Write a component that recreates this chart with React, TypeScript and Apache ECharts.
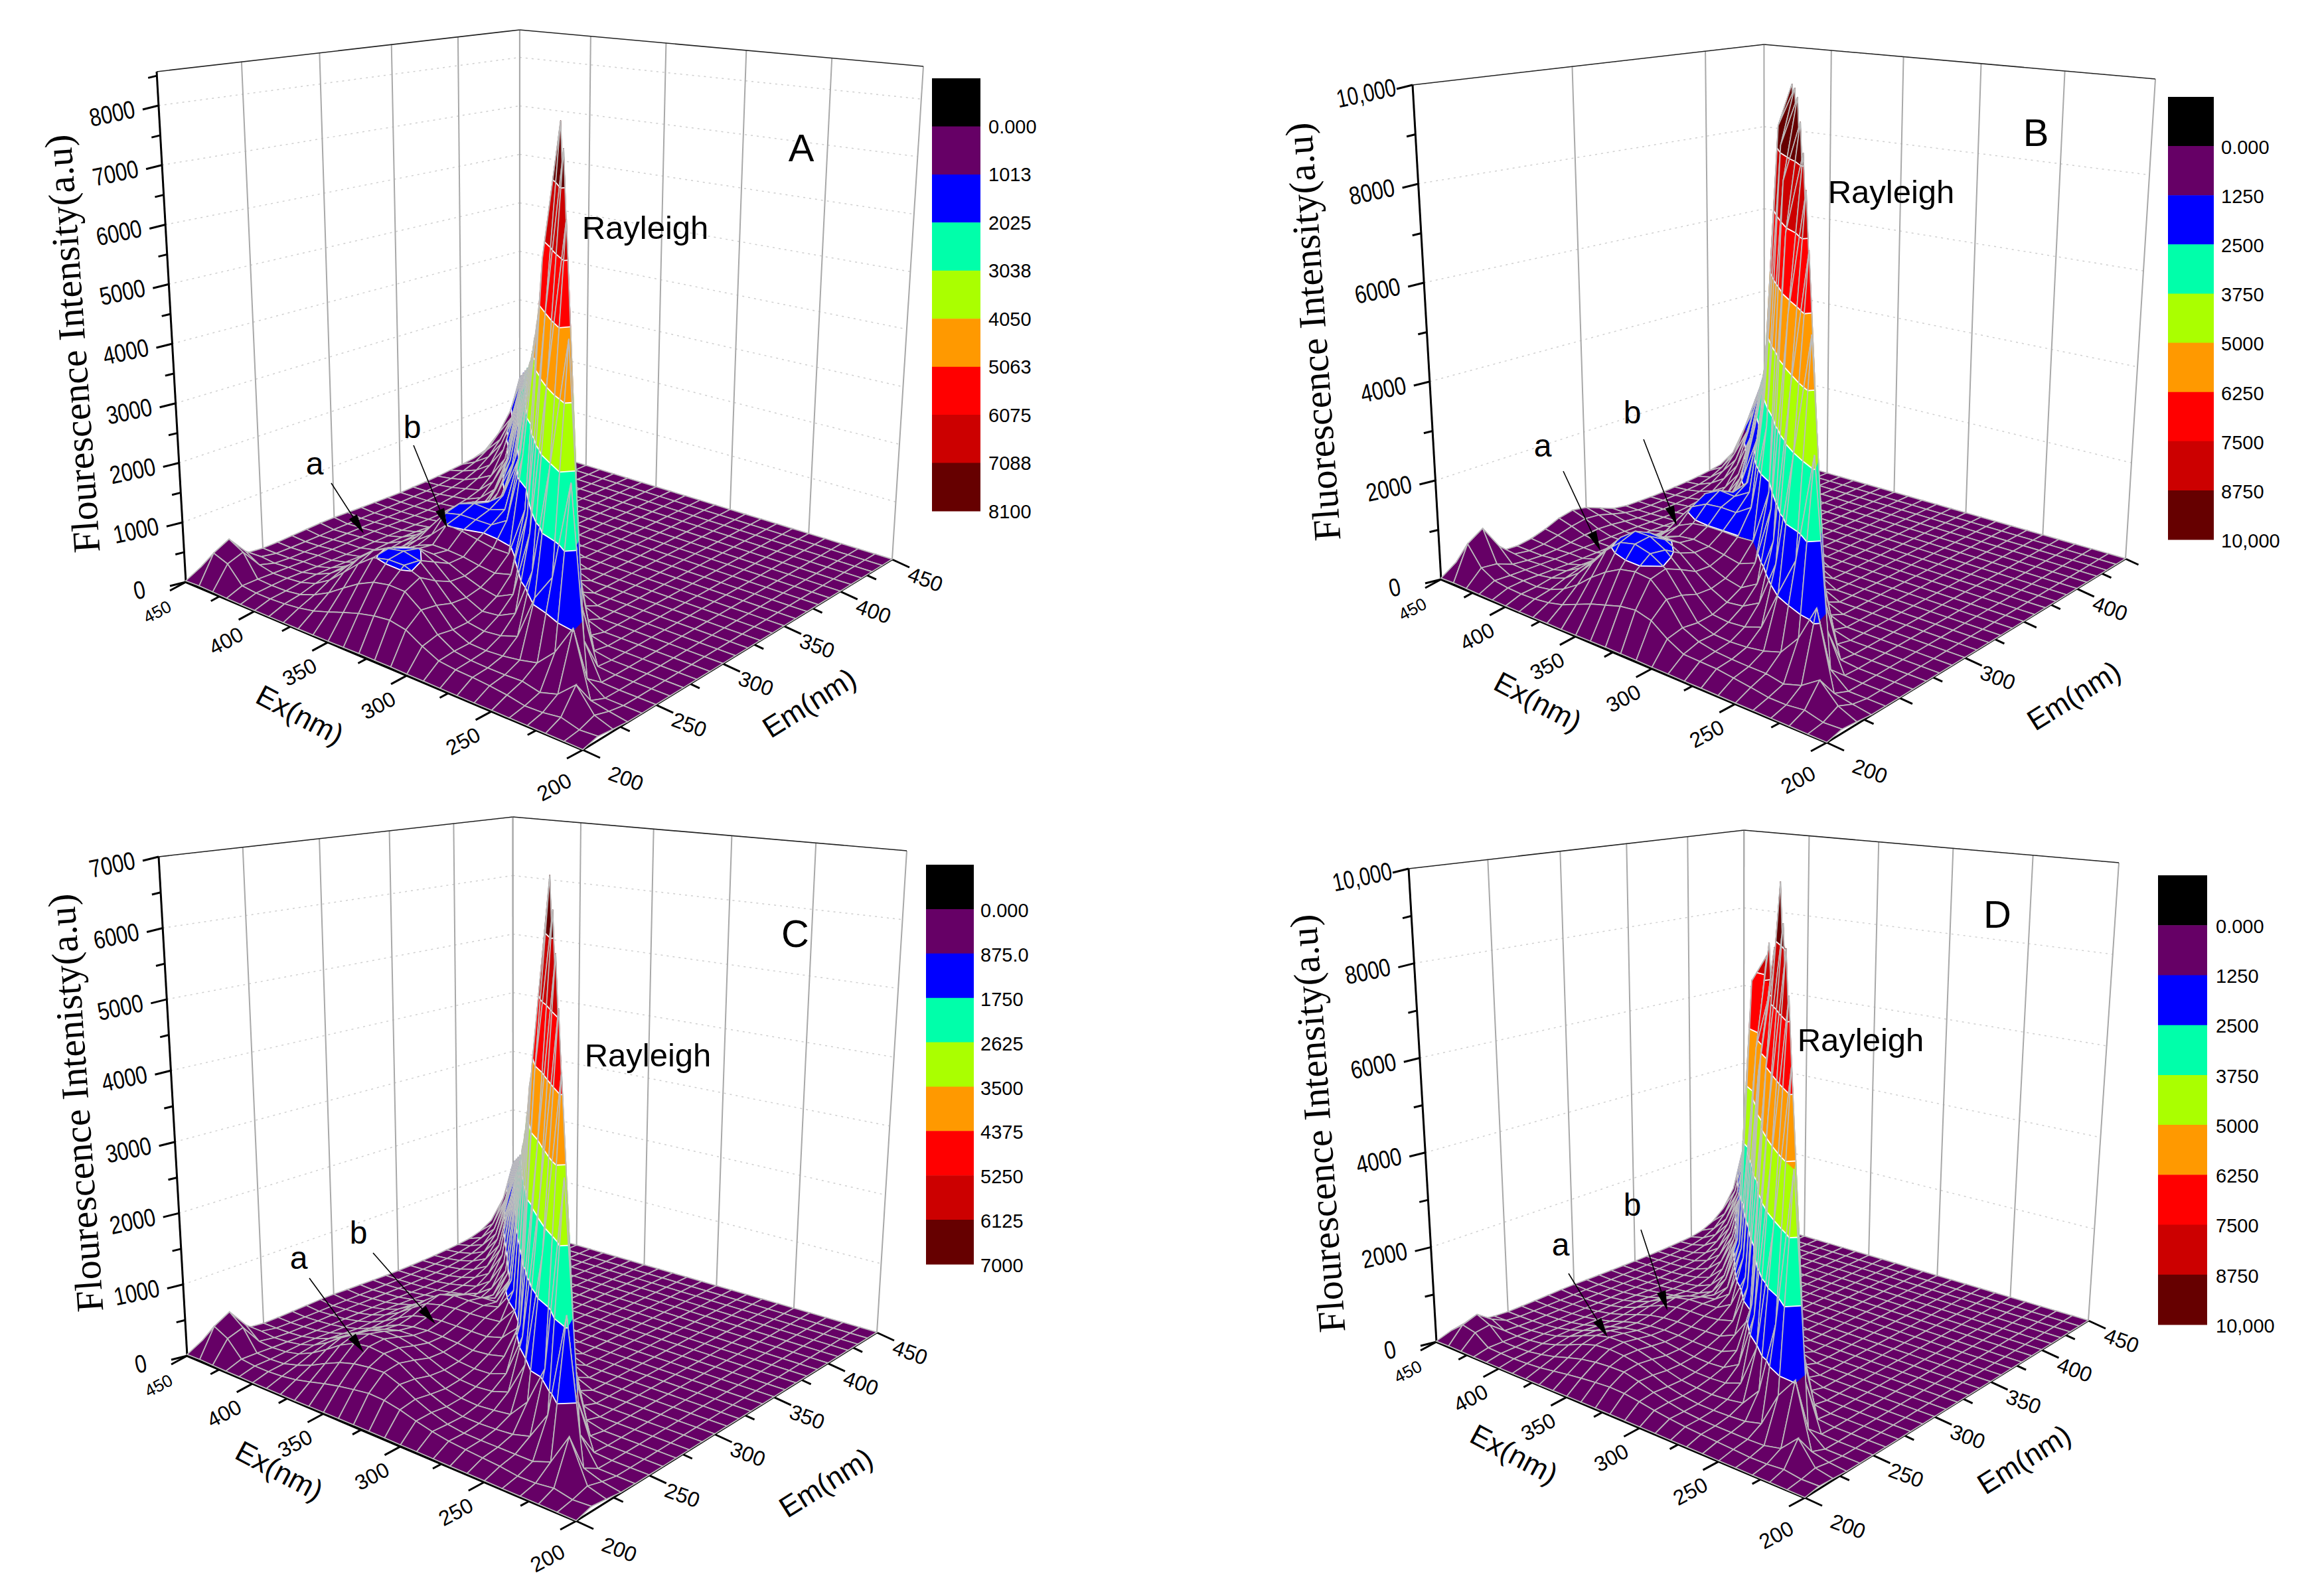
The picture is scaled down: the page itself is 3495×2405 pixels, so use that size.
import React, { useEffect, useRef } from "react";
import * as echarts from "echarts";

// Rows are Ex = 200..450 nm (10 nm steps), columns are Em = 200, 210, ... nm. Columns not listed sit on the floor level.
const surfaceA = [
  [5,60,30,8],
  [8,40,120,50,8],
  [10,110,450,100,10],
  [12,70,210,1050,190,15],
  [12,60,130,600,3000,540,30],
  [15,110,190,340,1500,5000,900,50],
  [15,140,180,280,1100,3000,6700,1200,70],
  [15,160,180,240,420,1300,4200,7700,1380,100],
  [18,170,190,220,330,560,1700,5000,8050,1440,110],
  [20,200,230,230,300,430,650,1800,5800,7000,1260,130],
  [20,320,380,340,340,400,520,760,1700,5000,6000,1080,120],
  [25,470,660,620,540,520,570,690,900,2400,4500,5300,950,100],
  [25,520,850,960,800,680,660,720,900,1250,2300,4100,4700,850,85],
  [25,490,860,1060,1030,900,770,770,950,1090,1250,2000,3700,4100,740,75],
  [20,430,810,1060,1090,1030,830,790,1000,1090,1160,1300,1900,3400,3800,680,70],
  [15,350,690,1000,1040,970,830,790,1020,1090,1180,1100,1100,1600,3000,3500,630,60],
  [12,260,530,810,920,860,730,690,770,1030,1090,1020,700,800,1400,2700,3200,580,50],
  [10,180,360,580,700,660,570,530,590,720,780,660,450,500,800,1300,2500,3000,540,50],
  [10,130,230,360,450,450,390,360,390,450,480,400,280,280,420,700,1150,2300,2800,500,45],
  [10,100,140,210,270,280,250,230,250,280,290,250,200,180,220,300,500,950,2000,2600,470,40],
  [10,85,105,135,160,160,150,140,150,160,160,150,130,120,140,180,260,460,800,1700,2400,430,35],
  [12,85,100,110,100,90,90,85,90,95,95,90,85,80,85,110,150,220,400,800,1400,2200,400,30],
  [15,110,110,100,90,80,80,80,80,85,85,80,70,60,60,80,110,160,260,420,750,1200,2000,360,25],
  [25,380,470,150,70,50,50,50,55,60,60,55,50,45,45,50,70,100,150,240,400,650,1000,1800,320,25],
  [30,470,600,290,90,40,35,35,35,40,40,40,35,35,35,40,45,60,90,140,220,360,600,950,1600,290],
  [20,150,220,130,70,40,40,50,60,70,70,60,50,40,35,30,35,40,50,70,90,120,190,340,630,1400],
];
const surfaceB = [
  [5,70,40,8],
  [8,50,180,60,8],
  [10,130,500,120,10],
  [12,90,280,1500,270,20],
  [15,90,180,850,4000,720,40],
  [15,140,240,480,2000,6000,1080,70],
  [18,180,240,380,1300,3700,7400,1330,90],
  [20,220,250,330,560,1600,4800,8400,1500,120],
  [20,230,270,310,450,760,1800,6000,9000,1600,130],
  [25,240,330,330,420,590,880,2200,7400,9500,1700,150],
  [25,400,470,430,450,550,700,1050,2300,8300,9900,1780,170],
  [30,620,880,830,720,700,770,930,1250,3400,8900,10000,1800,170],
  [30,700,1150,1220,1080,920,900,1000,1230,1700,3800,9200,10000,1800,160],
  [30,660,1180,1400,1350,1170,1060,1060,1240,1500,1800,3300,7600,9000,1700,150],
  [25,570,1120,1480,1510,1330,1150,1100,1240,1510,1620,1800,2700,6300,7000,1200,110],
  [20,480,960,1410,1510,1360,1150,1060,1200,1480,1650,1500,1500,2400,4500,5800,1000,90],
  [15,360,750,1150,1290,1200,1010,950,1060,1330,1490,1300,980,1200,2200,4000,5000,900,70],
  [15,240,500,800,970,920,790,730,810,980,1070,900,620,750,1300,2300,3700,4500,800,70],
  [15,170,310,500,630,620,530,490,530,610,660,560,400,430,680,1150,2000,3400,4000,720,60],
  [15,130,190,290,370,380,340,310,340,380,390,340,280,280,360,520,900,1700,3000,3600,650,55],
  [15,120,140,190,210,210,200,190,200,210,210,200,180,170,210,300,450,800,1500,2700,3300,600,50],
  [20,130,150,140,130,120,120,120,120,120,120,120,110,100,120,170,250,420,800,1500,2300,3000,540,40],
  [25,170,150,140,130,120,120,120,120,120,120,110,100,90,85,110,150,240,420,750,1300,1900,2700,490,35],
  [30,320,280,150,110,90,100,130,170,190,170,130,90,70,65,75,100,140,230,400,700,1250,1800,2400,430,30],
  [35,700,900,420,140,90,110,180,260,310,280,190,110,60,55,60,70,85,105,170,300,550,1000,1600,2200,400],
  [25,230,310,190,110,90,130,220,340,400,350,230,110,60,50,45,50,60,75,100,135,180,280,500,900,2000],
];
const surfaceC = [
  [5,60,35,8],
  [8,45,100,45,8],
  [10,90,600,120,10],
  [12,60,210,1900,340,20],
  [12,55,130,600,3450,620,40],
  [15,85,130,250,1000,4650,830,60],
  [15,100,130,190,500,2300,5370,960,70],
  [15,115,130,170,260,800,2900,6000,1050,90],
  [18,135,135,160,230,370,1000,3400,6500,1150,100],
  [20,170,165,165,210,300,440,1000,4300,6900,1200,110],
  [20,220,230,210,225,280,360,500,800,4300,5500,1000,90],
  [22,280,320,290,270,295,350,450,590,900,3900,4800,850,80],
  [22,320,430,410,360,345,370,430,530,650,1000,3400,4100,720,65],
  [22,330,510,540,490,430,420,455,530,630,700,1000,3000,3600,640,55],
  [20,300,500,590,580,520,470,470,530,620,650,620,850,2700,3200,570,50],
  [18,265,470,610,625,565,500,480,530,620,650,610,520,800,2400,2900,510,45],
  [15,220,410,580,620,570,495,460,510,600,650,590,430,420,700,2100,2600,470,40],
  [12,165,320,480,540,510,440,415,460,550,600,520,350,290,370,680,1900,2400,430,35],
  [12,115,220,345,420,400,350,325,360,420,450,380,260,200,225,330,650,1700,2200,400,35],
  [12,85,145,225,280,280,245,225,245,280,295,250,180,150,145,185,300,600,1400,2000,360,30],
  [12,70,90,135,170,175,160,145,155,175,180,160,130,110,105,130,175,270,520,1200,1850,330,28],
  [15,70,75,90,105,105,100,95,100,105,105,100,90,75,70,85,110,155,245,480,1100,1700,300,25],
  [15,90,85,75,70,60,60,60,60,62,62,60,55,50,48,55,70,95,145,220,430,950,1550,280,20],
  [20,300,370,90,55,42,42,42,45,47,47,45,42,40,38,42,50,65,90,125,195,380,800,1400,250,20],
  [25,400,520,250,75,35,30,30,30,33,33,33,30,30,30,33,38,45,58,80,115,175,330,700,1250,225],
  [18,130,190,115,60,35,35,40,48,55,55,48,42,35,30,28,30,35,42,58,72,95,150,260,490,1100],
];
const surfaceD = [
  [5,50,30,8],
  [8,40,90,40,8],
  [10,85,500,110,10],
  [10,55,190,1300,260,18],
  [12,50,120,900,5000,900,40],
  [12,70,110,260,2000,6800,1200,60],
  [15,85,115,180,620,3600,8000,1400,80],
  [15,100,115,160,270,1200,4700,8800,1500,90],
  [15,120,125,150,220,400,1600,5500,9200,1550,100],
  [18,150,150,155,200,290,520,1600,6200,9950,1600,110],
  [18,190,205,195,215,270,350,560,1100,5400,8600,1450,100],
  [20,240,280,260,250,275,330,430,640,1500,6200,8400,1350,90],
  [20,280,380,370,330,320,345,410,510,700,1500,5700,7500,1200,80],
  [20,290,450,480,440,390,385,420,500,620,820,1700,6100,8300,1300,80],
  [18,265,445,530,520,470,430,435,490,590,650,820,1700,5300,7900,1150,70],
  [15,235,420,550,565,510,455,440,490,590,630,610,750,1600,7300,6800,1050,65],
  [12,195,370,525,560,515,450,420,470,570,620,560,480,720,1500,5000,5000,850,55],
  [12,150,290,435,490,465,400,380,420,510,560,480,340,340,580,1250,2600,4500,750,50],
  [10,105,200,315,380,365,320,300,330,390,420,350,240,200,270,520,1100,2200,4000,680,45],
  [10,80,135,205,255,255,225,205,225,260,270,230,170,140,150,230,480,950,1900,3500,600,40],
  [10,65,85,125,155,160,145,135,145,160,165,145,120,100,100,130,220,430,850,1650,3100,530,35],
  [12,65,70,85,95,95,90,85,90,95,95,90,80,70,65,80,110,200,380,750,1400,2800,480,30],
  [12,75,70,65,60,55,55,55,55,55,55,55,50,45,42,50,65,95,175,340,650,1250,2500,430,25],
  [18,280,320,75,50,38,38,38,40,42,42,40,38,36,34,38,45,60,85,150,300,580,1100,2300,400,25],
  [22,340,440,215,65,32,28,28,28,30,30,30,28,28,28,30,34,42,55,75,135,260,520,1000,2100,370],
  [15,110,160,100,55,32,32,36,42,48,48,42,38,32,28,26,28,32,40,52,68,120,240,460,880,1900],
];

const floorLevel = 5;
const gridWavelengths = [200,210,220,230,240,250,260,270,280,290,300,310,320,330,340,350,360,370,380,390,400,410,420,430,440,450];

const levelsA = [0,1013,2025,3038,4050,5063,6075,7088,8100];
const levelsB = [0,1250,2500,3750,5000,6250,7500,8750,10000];
const levelsC = [0,875,1750,2625,3500,4375,5250,6125,7000];
const levelsD = [0,1250,2500,3750,5000,6250,7500,8750,10000];
const legendA = ["0.000","1013","2025","3038","4050","5063","6075","7088","8100"];
const legendB = ["0.000","1250","2500","3750","5000","6250","7500","8750","10,000"];
const legendC = ["0.000","875.0","1750","2625","3500","4375","5250","6125","7000"];
const legendD = ["0.000","1250","2500","3750","5000","6250","7500","8750","10,000"];
const ticksZA = [0,1000,2000,3000,4000,5000,6000,7000,8000];
const ticksZB = [0,2000,4000,6000,8000,10000];
const ticksZC = [0,1000,2000,3000,4000,5000,6000,7000];
const ticksZD = [0,2000,4000,6000,8000,10000];
const ticksEx = [200,250,300,350,400,450];
const ticksEmFull = [200,250,300,350,400,450];
const ticksEmSparse = [200,300,400];

const legendColors = ["#000000","#660066","#0000ff","#00ffaa","#aaff00","#ff9900","#ff0000","#cc0000","#660000"];
const bandColors = legendColors.slice(1);

type Pt = [number, number];
const panels: any[] = [
  { name:"A", surface:surfaceA, levels:levelsA, legend:legendA, ticksZ:ticksZA, ticksEm:ticksEmFull, zMax:8568, zMinor:500,
    L:[280,877],F:[878,1130],R:[1344,843],B:[783,671],TL:[236,108],TB:[783,45],TR:[1391,100],
    legendBox:[1404,118,1477,770], legendTextX:1489, legendFirstY:191,
    title:"Flourescence Intensity(a.u)", titlePos:[109,518], titleDeg:94,
    exPos:[452,1077], emPos:[1219,1059], letterPos:[1207,222], rayPos:[972,343],
    aPos:[474,698], bPos:[621,643], aArrow:[499,728,548,804], bArrow:[623,671,674,796] },
  { name:"B", surface:surfaceB, levels:levelsB, legend:legendB, ticksZ:ticksZB, ticksEm:ticksEmSparse, zMax:10000, zMinor:1000,
    L:[2171,873],F:[2752,1119],R:[3202,842],B:[2658,686],TL:[2128,128],TB:[2658,67],TR:[3247,119],
    legendBox:[3266,146,3335,813], legendTextX:3346, legendFirstY:222,
    title:"Fluorescence Intensity(a.u)", titlePos:[1978,500], titleDeg:94,
    exPos:[2317,1057], emPos:[3124,1048], letterPos:[3067,199], rayPos:[2849,289],
    aPos:[2324,671], bPos:[2459,621], aArrow:[2355,710,2411,830], bArrow:[2476,662,2526,792] },
  { name:"C", surface:surfaceC, levels:levelsC, legend:legendC, ticksZ:ticksZC, ticksEm:ticksEmFull, zMax:7000, zMinor:500,
    L:[282,2043],F:[868,2292],R:[1321,2008],B:[773,1849],TL:[239,1291],TB:[773,1231],TR:[1366,1282],
    legendBox:[1395,1303,1467,1905], legendTextX:1477, legendFirstY:1372,
    title:"Flourescence Intenisty(a.u)", titlePos:[114,1662], titleDeg:94,
    exPos:[421,2216], emPos:[1244,2234], letterPos:[1198,1406], rayPos:[976,1590],
    aPos:[450,1895], bPos:[540,1857], aArrow:[466,1926,548,2038], bArrow:[562,1888,656,1995] },
  { name:"D", surface:surfaceD, levels:levelsD, legend:legendD, ticksZ:ticksZD, ticksEm:ticksEmFull, zMax:10000, zMinor:1000,
    L:[2164,2022],F:[2719,2257],R:[3146,1990],B:[2627,1836],TL:[2122,1309],TB:[2627,1251],TR:[3192,1300],
    legendBox:[3251,1319,3325,1996], legendTextX:3338, legendFirstY:1396,
    title:"Flourescence Intensity(a.u)", titlePos:[1985,1693], titleDeg:94,
    exPos:[2281,2191], emPos:[3049,2199], letterPos:[3009,1377], rayPos:[2803,1567],
    aPos:[2351,1875], bPos:[2459,1815], aArrow:[2363,1919,2422,2015], bArrow:[2472,1853,2512,1975] },
];

// Perspective frame of one panel: a = Ex fraction (F to L), b = Em fraction (F to R), z = intensity.
function makeProjection(p: any) {
  const [x0,y0] = p.F, [x1,y1] = p.L, [x2,y2] = p.B, [x3,y3] = p.R;
  const dx1 = x1-x2, dx2 = x3-x2, sx = x0-x1+x2-x3;
  const dy1 = y1-y2, dy2 = y3-y2, sy = y0-y1+y2-y3;
  const det = dx1*dy2-dx2*dy1;
  const g = (sx*dy2-dx2*sy)/det, h = (dx1*sy-sx*dy1)/det;
  const A = x1-x0+g*x1, B = x3-x0+h*x3, D = y1-y0+g*y1, E = y3-y0+h*y3;
  const floor = (a:number,b:number):[number,number,number] => {
    const w = g*a+h*b+1;
    return [(A*a+B*b+x0)/w,(D*a+E*b+y0)/w,w];
  };
  // vanishing point of the verticals
  const mL = (p.TL[0]-p.L[0])/(p.TL[1]-p.L[1]);
  const mR = (p.TR[0]-p.R[0])/(p.TR[1]-p.R[1]);
  const vy = (p.R[0]-p.L[0]+mL*p.L[1]-mR*p.R[1])/(mL-mR);
  const vx = p.L[0]+mL*(vy-p.L[1]);
  const kOf = (base:Pt,top:Pt,w:number) => ((vy-top[1])/(vy-base[1])-1)*w;
  const kL = kOf(p.L,p.TL,g+1), kR = kOf(p.R,p.TR,h+1), kB = kOf(p.B,p.TB,g+h+1);
  const kF = kL+kR-kB;
  return (a:number,b:number,z:number):Pt => {
    const [fx,fy,w] = floor(a,b);
    const kw = kF+(kL-kF)*a+(kR-kF)*b;
    const s = 1+(kw/w)*(z/p.zMax);
    return [vx+(fx-vx)*s, vy+(fy-vy)*s];
  };
}

function clipBand(poly:number[][],lo:number,hi:number){
  const clip = (pts:number[][],keep:(z:number)=>boolean,level:number)=>{
    const out:number[][] = [];
    for(let i=0;i<pts.length;i++){
      const c = pts[i], n = pts[(i+1)%pts.length];
      const ci = keep(c[2]), ni = keep(n[2]);
      if(ci) out.push(c);
      if(ci!==ni){
        const t = (level-c[2])/(n[2]-c[2]);
        out.push([c[0]+(n[0]-c[0])*t,c[1]+(n[1]-c[1])*t,level]);
      }
    }
    return out;
  };
  let r = clip(poly,z=>z>=lo,lo);
  if(r.length && hi<Infinity) r = clip(r,z=>z<=hi,hi);
  return r;
}

function surfaceSeries(p:any){
  const project = makeProjection(p);
  const n = gridWavelengths.length;
  const zAt = (i:number,j:number) => { const row = p.surface[i]; return j<row.length ? row[j] : floorLevel; };
  const cells:number[][] = [];
  for(let i=n-2;i>=0;i--) for(let j=n-2;j>=0;j--) cells.push([i,j,zAt(i,j),zAt(i+1,j),zAt(i+1,j+1),zAt(i,j+1)]);
  const frac = (i:number)=> (gridWavelengths[i]-200)/250;
  return {
    type:"custom", coordinateSystem:"cartesian2d", xAxisIndex:0, yAxisIndex:0, silent:true, clip:false,
    progressive:0, animation:false, data:cells, encode:{x:0,y:1},
    renderItem(_:any,api:any){
      const i = api.value(0), j = api.value(1);
      const a0 = frac(i), a1 = frac(i+1), b0 = frac(j), b1 = frac(j+1);
      const quad = [[a0,b0,api.value(2)],[a1,b0,api.value(3)],[a1,b1,api.value(4)],[a0,b1,api.value(5)]];
      const toPx = (v:number[]) => api.coord(project(v[0],v[1],v[2]));
      const children:any[] = [];
      p.levels.slice(0,8).forEach((lo:number,k:number)=>{
        const hi = k===7 ? Infinity : p.levels[k+1];
        const lower = k===0 ? -Infinity : lo;
        const part = clipBand(quad,lower,hi);
        if(part.length>=3) children.push({type:"polygon",shape:{points:part.map(toPx)},style:{fill:bandColors[k],stroke:bandColors[k],lineWidth:0.7}});
      });
      p.levels.slice(1,8).forEach((lv:number)=>{
        const pts:number[][] = [];
        for(let e=0;e<4;e++){
          const c = quad[e], d = quad[(e+1)%4];
          if((c[2]-lv)*(d[2]-lv)<0){
            const t = (lv-c[2])/(d[2]-c[2]);
            pts.push(toPx([c[0]+(d[0]-c[0])*t,c[1]+(d[1]-c[1])*t,lv]));
          }
        }
        if(pts.length>=2) children.push({type:"line",shape:{x1:pts[0][0],y1:pts[0][1],x2:pts[1][0],y2:pts[1][1]},style:{stroke:"#ffffff",lineWidth:1.8}});
      });
      children.push({type:"polygon",shape:{points:quad.map(toPx)},style:{fill:"none",stroke:"#bcbcbc",lineWidth:1.7}});
      return {type:"group",children};
    },
  };
}

const rad = (d:number)=>d*Math.PI/180;
function line(a:Pt,b:Pt,stroke:string,lineWidth:number,z:number,lineDash?:number[]){
  return {type:"line",silent:true,z,shape:{x1:a[0],y1:a[1],x2:b[0],y2:b[1]},style:{stroke,lineWidth,lineDash}};
}
function label(text:string,pos:number[],font:string,size:number,deg:number,z:number,scaleX=1){
  return {type:"text",silent:true,z,x:pos[0],y:pos[1],rotation:rad(deg),scaleX,
    style:{text,fill:"#000000",font:`${size}px ${font}`,textAlign:"center",textVerticalAlign:"middle"}};
}
const SANS = '"Liberation Sans", Arial, sans-serif';
const SERIF = '"Liberation Serif", "Times New Roman", serif';

function arrow(c:number[]){
  const [x1,y1,x2,y2] = c;
  const ang = Math.atan2(y2-y1,x2-x1), len = 30, wid = 7;
  const bx = x2-Math.cos(ang)*len, by = y2-Math.sin(ang)*len;
  const nx = -Math.sin(ang)*wid, ny = Math.cos(ang)*wid;
  return [
    line([x1,y1],[bx,by],"#000000",1.6,10),
    {type:"polygon",silent:true,z:10,shape:{points:[[x2,y2],[bx+nx,by+ny],[bx-nx,by-ny]]},style:{fill:"#000000"}},
  ];
}

function frameElements(p:any){
  const pr = makeProjection(p);
  const out:any[] = [];
  const wallGray = "#a8a8a8";
  // dotted level lines on both back walls
  p.ticksZ.forEach((z:number)=>{
    if(z===0) return;
    out.push(line(pr(1,0,z),pr(1,1,z),"#cfcfcf",1.5,0,[3,6]));
    out.push(line(pr(1,1,z),pr(0,1,z),"#cfcfcf",1.5,0,[3,6]));
  });
  // vertical wall lines
  p.ticksEm.forEach((em:number)=>{
    if(em===200) return;
    const b=(em-200)/250;
    out.push(line(pr(1,b,0),pr(1,b,p.zMax),wallGray,2,0));
  });
  ticksEx.forEach((ex:number)=>{
    if(ex===450) return;
    const a=(ex-200)/250;
    out.push(line(pr(a,1,0),pr(a,1,p.zMax),wallGray,2,0));
  });
  out.push(line(pr(1,1,0),pr(1,1,p.zMax),wallGray,2,0));
  // box edges
  out.push(line(pr(1,0,p.zMax),pr(1,1,p.zMax),"#222222",1.6,0));
  out.push(line(pr(1,1,p.zMax),pr(0,1,p.zMax),"#222222",1.6,0));
  out.push(line(pr(1,0,0),pr(1,0,p.zMax),"#000000",3,1));
  out.push(line(pr(1,0,0),pr(0,0,0),"#000000",4,1));
  out.push(line(pr(0,0,0),pr(0,1,0),"#000000",3,1));
  // Z ticks
  for(let z=0;z<=p.zMax+1;z+=p.zMinor){
    const q = pr(1,0,z);
    const major = p.ticksZ.includes(z);
    const f = major?1:0.55;
    out.push(line(q,[q[0]-24*f,q[1]+6*f],"#000000",3,1));
    if(major){
      const txt = z===10000 ? "10,000" : String(z);
      out.push(label(txt,[q[0]-70,q[1]+12],SANS,38,12,5,z===10000?0.78:0.82));
    }
  }
  // Ex ticks: along F-L, marks point toward the Em-negative side
  for(let ex=200;ex<=450;ex+=25){
    const a=(ex-200)/250, q=pr(a,0,0);
    const major = ticksEx.includes(ex), f = major?1:0.55;
    out.push(line(q,[q[0]-24*f,q[1]+13*f],"#000000",3,1));
    if(major) out.push(label(String(ex),[q[0]-43,q[1]+(ex===200?56:45)],SANS,ex===450?26:32,28,5));
  }
  // Em ticks: along F-R
  for(let em=200;em<=450;em+=25){
    const b=(em-200)/250, q=pr(0,b,0);
    const major = p.ticksEm.includes(em), f = major?1:(em%50===0?0.75:0.55);
    out.push(line(q,[q[0]+26*f,q[1]+12*f],"#000000",3,1));
    if(major) out.push(label(String(em),[q[0]+(em===200?65:50),q[1]+(em===200?43:30)],SANS,32,-20,5));
  }
  // axis titles
  out.push(label(p.title,p.titlePos,SERIF,58,p.titleDeg,5));
  out.push(label("Ex(nm)",p.exPos,SANS,44,-28,5));
  out.push(label("Em(nm)",p.emPos,SANS,44,32,5));
  // legend
  const [lx0,ly0,lx1,ly1] = p.legendBox;
  const h = (ly1-ly0)/9;
  legendColors.forEach((c,k)=>{
    out.push({type:"rect",silent:true,z:5,shape:{x:lx0,y:ly0+h*k,width:lx1-lx0,height:h+0.5},style:{fill:c}});
  });
  p.legend.forEach((t:string,k:number)=>{
    out.push({type:"text",silent:true,z:5,x:p.legendTextX,y:p.legendFirstY+h*k,
      style:{text:t,fill:"#000000",font:`29px ${SANS}`,textAlign:"left",textVerticalAlign:"middle"}});
  });
  // annotations
  out.push(label(p.name,p.letterPos,SANS,58,0,10));
  out.push(label("Rayleigh",p.rayPos,SANS,49,0,10));
  out.push(label("a",p.aPos,SANS,48,0,10));
  out.push(label("b",p.bPos,SANS,48,0,10));
  out.push(...arrow(p.aArrow),...arrow(p.bArrow));
  return out;
}

export default function App(){
  const ref = useRef<HTMLDivElement>(null);
  useEffect(()=>{
    document.body.style.margin = "0";
    document.body.style.background = "#ffffff";
    const chart = echarts.init(ref.current!,undefined,{renderer:"svg"});
    chart.setOption({
      animation:false,
      backgroundColor:"#ffffff",
      grid:{left:0,right:0,top:0,bottom:0},
      xAxis:{type:"value",min:0,max:3495,show:false},
      yAxis:{type:"value",min:0,max:2405,inverse:true,show:false},
      series:panels.map(surfaceSeries),
      graphic:{elements:panels.flatMap(frameElements)},
    });
    return ()=>chart.dispose();
  },[]);
  return <div ref={ref} style={{width:3495,height:2405}}/>;
}
